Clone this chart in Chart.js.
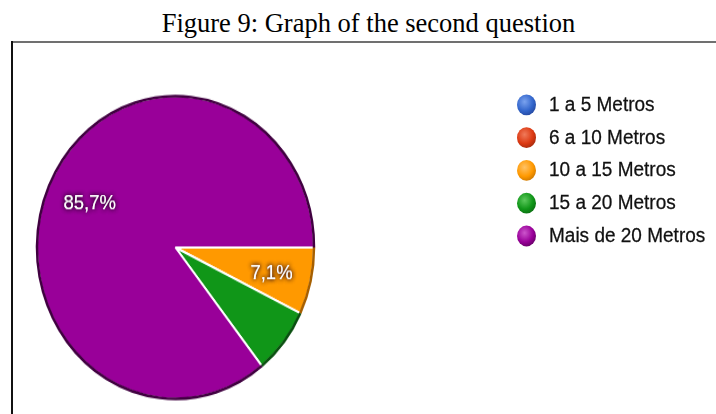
<!DOCTYPE html>
<html>
<head>
<meta charset="utf-8">
<script src="https://cdn.jsdelivr.net/npm/chart.js@4.4.1/dist/chart.umd.min.js"></script>
<style>
  html, body { margin: 0; padding: 0; background: #fff; }
  body { width: 716px; height: 414px; position: relative; overflow: hidden; }
  #caption {
    position: absolute; left: 0; top: 10px; width: 737px;
    text-align: center; white-space: nowrap;
    font-family: 'Liberation Serif', 'Times New Roman', serif;
    font-size: 26.5px; line-height: 26.5px; color: #000;
  }
  #frame {
    position: absolute; left: 11px; top: 42px; width: 705px; height: 340px;
    transform-origin: 0 0; transform: scaleY(1.093);
  }
  #chart-box { position: absolute; left: 0; top: 0; width: 705px; height: 340px; }
  #legend {
    position: absolute; left: 506px; top: 42px; margin: 0; padding: 0; list-style: none;
    font-family: 'Liberation Sans', Arial, sans-serif; font-size: 19px; color: #111;
    -webkit-text-stroke: 0.25px #111;
  }
  #legend li { height: 30px; display: flex; align-items: center; white-space: nowrap; }
  #legend .dot { width: 19px; height: 19px; border-radius: 50%; margin-right: 13px; }
  #rule-top { position: absolute; left: 11px; top: 41px; width: 705px; height: 2px; background: #707070; }
  #rule-left { position: absolute; left: 11px; top: 41px; width: 2px; height: 373px; background: #111; }
</style>
</head>
<body>
<div id="caption">Figure 9: Graph of the second question</div>
<div id="frame">
  <div id="chart-box"><canvas id="pie-chart"></canvas></div>
  <ul id="legend"></ul>
</div>
<div id="rule-top"></div>
<div id="rule-left"></div>
<script>
const categories = ['1 a 5 Metros', '6 a 10 Metros', '10 a 15 Metros', '15 a 20 Metros', 'Mais de 20 Metros'];
const responses = [0, 0, 1, 1, 12];
const withPercent = [false, false, true, false, true];

const sliceColors = ['#3366cc', '#dc3912', '#ff9900', '#109618', '#990099'];
const rimColors = ['#1a3380', '#7a1f0a', '#a65f00', '#0a5010', '#400040'];
const dotLight = ['#7aa2ee', '#f07a5a', '#ffc266', '#5cc95c', '#cc55cc'];

const total = responses.reduce((a, b) => a + b, 0);
const pct = v => (v / total * 100).toFixed(1).replace('.', ',') + '%';

// legend list on the right
const legend = document.getElementById('legend');
categories.forEach((name, i) => {
    const li = document.createElement('li');
    const dot = document.createElement('span');
    dot.className = 'dot';
    dot.style.background = 'radial-gradient(circle at 40% 35%, ' + dotLight[i] + ' 0%, ' + sliceColors[i] + ' 50%, ' + rimColors[i] + ' 100%)';
    li.appendChild(dot);
    li.appendChild(document.createTextNode(name));
    legend.appendChild(li);
});

// dark outer rim + percentage text on the slices
const rimAndLabels = {
    id: 'rimAndLabels',
    afterDatasetsDraw(chart) {
        const ctx = chart.ctx;
        const arcs = chart.getDatasetMeta(0).data;
        arcs.forEach((arc, i) => {
            if (!responses[i]) return;
            const p = arc.getProps(['x', 'y', 'startAngle', 'endAngle', 'outerRadius'], true);
            ctx.save();
            ctx.strokeStyle = rimColors[i];
            ctx.lineWidth = 2.5;
            ctx.beginPath();
            ctx.arc(p.x, p.y, p.outerRadius, p.startAngle, p.endAngle);
            ctx.stroke();
            ctx.restore();
        });
        arcs.forEach((arc, i) => {
            if (!responses[i] || !withPercent[i]) return;
            const p = arc.getProps(['x', 'y', 'startAngle', 'endAngle', 'outerRadius'], true);
            const mid = (p.startAngle + p.endAngle) / 2;
            const r = p.outerRadius * 0.7;
            const tx = p.x + Math.cos(mid) * r + 1.5;
            const ty = p.y + Math.sin(mid) * r + 2;
            ctx.save();
            ctx.font = '18.5px "Liberation Sans", Arial, sans-serif';
            ctx.textAlign = 'center';
            ctx.textBaseline = 'middle';
            ctx.fillStyle = '#fff';
            ctx.shadowColor = 'rgba(30,0,30,0.9)';
            ctx.shadowBlur = 4;
            ctx.fillText(pct(responses[i]), tx, ty);
            ctx.fillText(pct(responses[i]), tx, ty);
            ctx.restore();
        });
    }
};

var ctx = document.getElementById('pie-chart').getContext('2d');
new Chart(ctx, {
    type: 'pie',
    data: {
        labels: categories,
        datasets: [{
            label: 'Respostas',
            data: responses,
            backgroundColor: sliceColors,
            borderColor: '#fff',
            borderWidth: 2
        }]
    },
    options: {
        responsive: true,
        maintainAspectRatio: false,
        animation: false,
        events: [],
        rotation: 90,
        layout: { padding: { left: 25, top: 48.5, right: 401, bottom: 12.5 } },
        plugins: {
            legend: { display: false },
            tooltip: { enabled: false }
        }
    },
    plugins: [rimAndLabels]
});
</script>
</body>
</html>
